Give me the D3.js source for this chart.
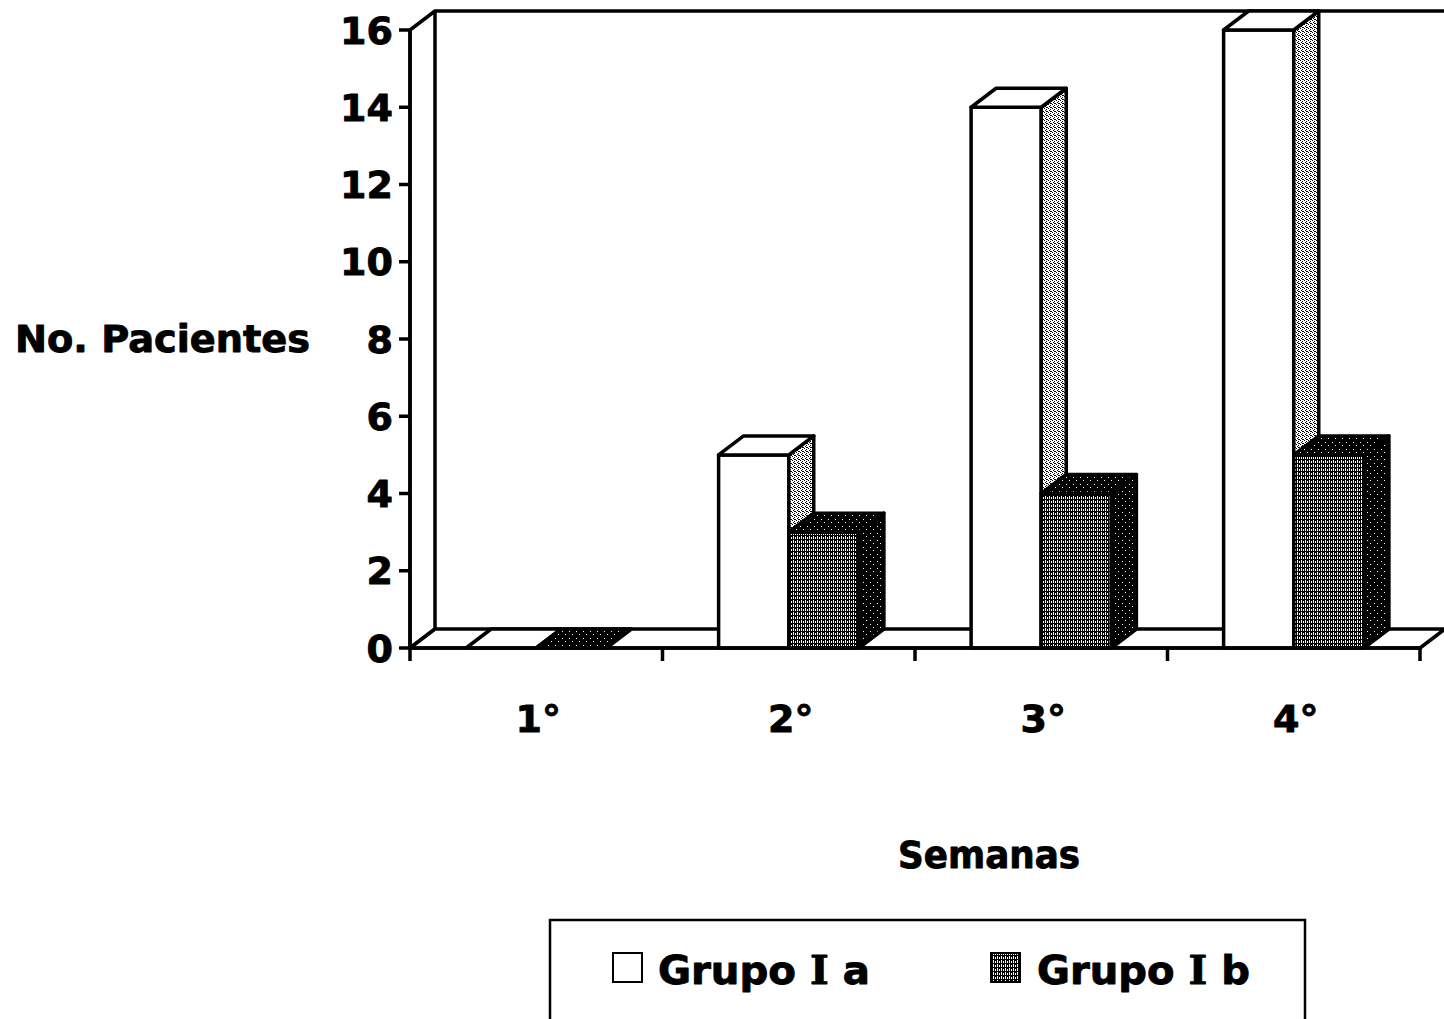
<!DOCTYPE html>
<html>
<head>
<meta charset="utf-8">
<script src="https://cdn.jsdelivr.net/npm/d3@7"></script>
<style>
  html, body { margin: 0; padding: 0; background: #fff; }
  svg { display: block; }
  text { font-family: "Comic Sans MS", "DejaVu Sans", sans-serif; font-weight: bold; fill: #000;
         stroke: #000; stroke-width: 0.9px; stroke-linejoin: round; }
  tspan.serif { font-family: "DejaVu Serif", serif; }
</style>
</head>
<body>
<svg id="chart" width="1444" height="1019"></svg>
<script>
// Weekly patient counts for each group
const weeks = ["1°", "2°", "3°", "4°"];
const groups = ["Grupo I a", "Grupo I b"];
const grupoIa = [0, 5, 14, 16];
const grupoIb = [0, 3, 4, 5];
const yTicks = [0, 2, 4, 6, 8, 10, 12, 14, 16];

const svg = d3.select("#chart");
const W = 1444, H = 1019;

// 3D depth offset of the box and the columns
const DX = 25, DY = -19;

const x = d3.scaleBand().domain(weeks).range([410, 1420]).paddingInner(0).paddingOuter(0);
const xs = d3.scaleBand().domain(groups).range([0, x.bandwidth()]).paddingInner(0).paddingOuter(0.8);
const y = d3.scaleLinear().domain([0, 16]).range([648, 30]);

// Print-like textures
const defs = svg.append("defs");
function pattern(id, size, bg, fg, cells) {
  const p = defs.append("pattern").attr("id", id).attr("patternUnits", "userSpaceOnUse")
    .attr("width", size).attr("height", size);
  p.append("rect").attr("width", size).attr("height", size).attr("fill", bg);
  cells.forEach(c => p.append("rect").attr("x", c[0]).attr("y", c[1])
    .attr("width", c[2] || 1).attr("height", c[3] || 1).attr("fill", fg));
}
pattern("lightSide", 4, "#fff", "#000", [[0, 0], [2, 1], [1, 2], [3, 3], [2, 3]]);
pattern("darkFront", 4, "#000", "#fff", [[1, 0, 1, 3], [3, 1, 1, 2]]);
pattern("darkSide", 7, "#000", "#fff", [[2, 1], [5, 4]]);

const styles = {
  "Grupo I a": { front: "#fff", top: "#fff", side: "url(#lightSide)" },
  "Grupo I b": { front: "url(#darkFront)", top: "url(#darkSide)", side: "url(#darkSide)" }
};

const line = d3.line();
const poly = pts => line(pts) + "Z";
const SW = 3.5;

// Box: left side wall, back wall edge and floor
const y0 = y(0), yTop = y(16);
svg.append("path").attr("d", poly([[410, yTop], [410 + DX, yTop + DY], [410 + DX, y0 + DY], [410, y0]]))
  .attr("fill", "#fff").attr("stroke", "#000").attr("stroke-width", SW).attr("stroke-linejoin", "round");
svg.append("line").attr("x1", 410 + DX).attr("x2", W + 5).attr("y1", yTop + DY).attr("y2", yTop + DY)
  .attr("stroke", "#000").attr("stroke-width", SW);
svg.append("path").attr("d", poly([[410, y0], [1420, y0], [1420 + DX, y0 + DY], [410 + DX, y0 + DY]]))
  .attr("fill", "#fff").attr("stroke", "#000").attr("stroke-width", SW).attr("stroke-linejoin", "round");

// Columns
const rows = [];
weeks.forEach((w, i) => {
  rows.push({ week: w, group: groups[0], value: grupoIa[i] });
  rows.push({ week: w, group: groups[1], value: grupoIb[i] });
});

const bars = svg.append("g").selectAll("g").data(rows).join("g");
bars.each(function (d) {
  const g = d3.select(this);
  const st = styles[d.group];
  const x0 = x(d.week) + xs(d.group), x1 = x0 + xs.bandwidth();
  const yt = y(d.value), yb = y(0);
  const add = (pts, fill) => g.append("path").attr("d", poly(pts)).attr("fill", fill)
    .attr("stroke", "#000").attr("stroke-width", SW).attr("stroke-linejoin", "round");
  if (d.value > 0) {
    add([[x0, yt], [x1, yt], [x1, yb], [x0, yb]], st.front);
    add([[x1, yt], [x1 + DX, yt + DY], [x1 + DX, yb + DY], [x1, yb]], st.side);
  }
  add([[x0, yt], [x1, yt], [x1 + DX, yt + DY], [x0 + DX, yt + DY]], st.top);
});

// Value axis
const yAxis = svg.append("g");
yAxis.append("line").attr("x1", 410).attr("x2", 410).attr("y1", yTop).attr("y2", y0)
  .attr("stroke", "#000").attr("stroke-width", SW);
yAxis.selectAll("line.tick").data(yTicks).join("line").attr("class", "tick")
  .attr("x1", 399).attr("x2", 410).attr("y1", d => y(d)).attr("y2", d => y(d))
  .attr("stroke", "#000").attr("stroke-width", SW);
yAxis.selectAll("text").data(yTicks).join("text")
  .attr("x", 393).attr("y", d => y(d)).attr("dy", "0.36em").attr("text-anchor", "end")
  .attr("font-size", 38).text(d => d);

// Category axis
const xAxis = svg.append("g");
xAxis.append("line").attr("x1", 410).attr("x2", 1422).attr("y1", y0).attr("y2", y0)
  .attr("stroke", "#000").attr("stroke-width", SW);
const edges = weeks.map(w => x(w)).concat([x(weeks[weeks.length - 1]) + x.bandwidth()]);
xAxis.selectAll("line.tick").data(edges).join("line").attr("class", "tick")
  .attr("x1", d => d).attr("x2", d => d).attr("y1", y0).attr("y2", y0 + 13)
  .attr("stroke", "#000").attr("stroke-width", SW);
xAxis.selectAll("text").data(weeks).join("text")
  .attr("x", d => x(d) + x.bandwidth() / 2 + 2).attr("y", 732).attr("text-anchor", "middle")
  .attr("font-size", 38).text(d => d);

// Axis titles
svg.append("text").attr("x", 15).attr("y", 352).attr("font-size", 37)
  .attr("textLength", 295).attr("lengthAdjust", "spacingAndGlyphs").text("No. Pacientes");
svg.append("text").attr("x", 989).attr("y", 868).attr("text-anchor", "middle").attr("font-size", 37)
  .attr("textLength", 182).attr("lengthAdjust", "spacingAndGlyphs").text("Semanas");

// Legend
const lg = svg.append("g");
lg.append("rect").attr("x", 550).attr("y", 920).attr("width", 755).attr("height", 115)
  .attr("fill", "#fff").attr("stroke", "#000").attr("stroke-width", 2.5);
const legendItems = [
  { name: groups[0], fill: styles[groups[0]].front, sx: 613, tx: 658, tw: 212 },
  { name: groups[1], fill: styles[groups[1]].front, sx: 991, tx: 1037, tw: 213 }
];
legendItems.forEach(it => {
  lg.append("rect").attr("x", it.sx).attr("y", 953).attr("width", 29).attr("height", 29)
    .attr("fill", it.fill).attr("stroke", "#000").attr("stroke-width", 2);
  // the roman numeral keeps its serifs
  const [word, numeral, letter] = it.name.split(" ");
  const t = lg.append("text").attr("x", it.tx).attr("y", 984).attr("font-size", 39)
    .attr("textLength", it.tw).attr("lengthAdjust", "spacingAndGlyphs");
  t.append("tspan").text(word + " ");
  t.append("tspan").attr("class", "serif").text(numeral);
  t.append("tspan").text(" " + letter);
});
</script>
</body>
</html>
